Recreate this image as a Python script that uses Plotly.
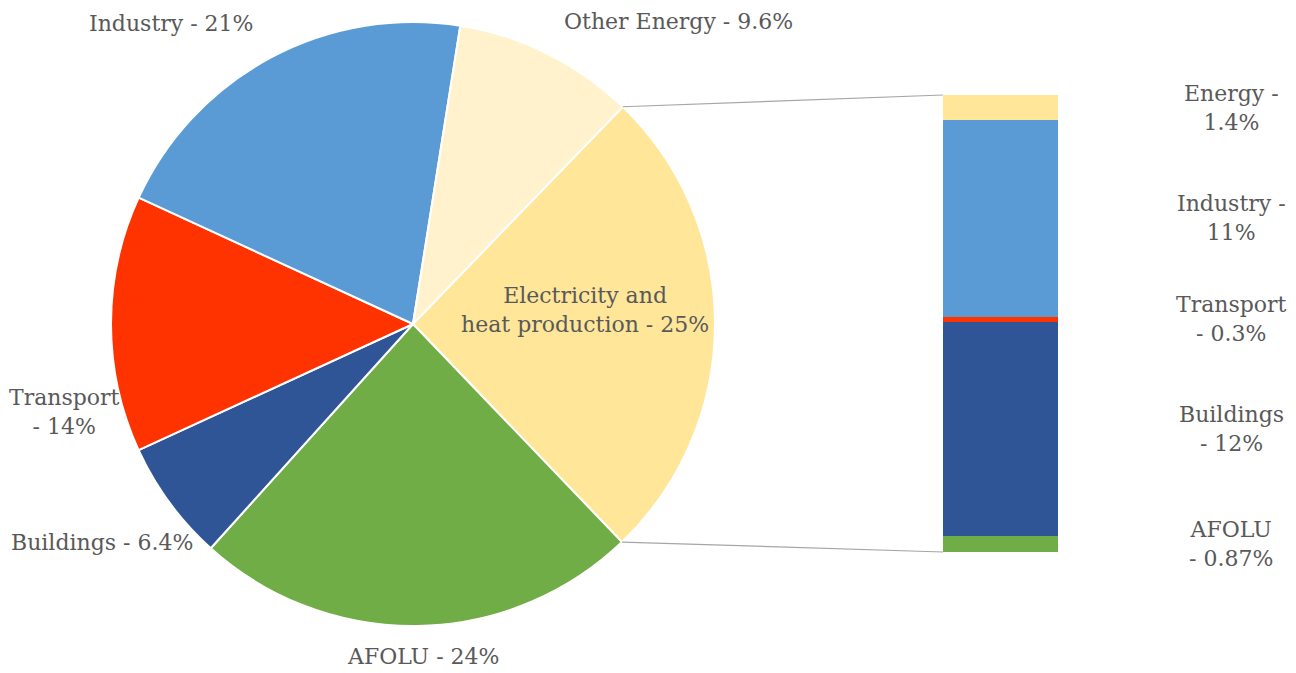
import math
import plotly.graph_objects as go

# ---- data ----
pie_labels = ["Electricity and heat production", "AFOLU", "Buildings", "Transport", "Industry", "Other Energy"]
pie_values = [25.57, 23.8, 6.45, 13.7, 20.6, 9.7]
pie_colors = ["#FFE699", "#70AD47", "#2F5597", "#FF3300", "#5B9BD5", "#FFF2CC"]
pie_text = ["Electricity and<br>heat production - 25%", "AFOLU - 24%", "Buildings - 6.4%",
            "Transport<br>- 14%", "Industry - 21%", "Other Energy - 9.6%"]

bar_labels = ["AFOLU", "Buildings", "Transport", "Industry", "Energy"]
bar_values = [0.87, 12, 0.3, 11, 1.4]
bar_colors = ["#70AD47", "#2F5597", "#FF3300", "#5B9BD5", "#FFE699"]
bar_text = ["AFOLU<br>- 0.87%", "Buildings<br>- 12%", "Transport<br>- 0.3%", "Industry -<br>11%", "Energy -<br>1.4%"]

# ---- layout geometry ----
W, H = 1296, 673
CX, CY, R = 413, 324, 302
ROT = 44
BAR_X0, BAR_X1, BAR_Y0, BAR_Y1 = 943, 1058, 95, 552
FONT = dict(family="DejaVu Serif", size=22, color="#595959")
LINE_COL = "#A6A6A6"

def px(x):
    return x / W

def py(y):
    return 1 - y / H

# label anchor positions (pixels) for pie labels
pie_label_pos = [(585, 310), (423, 656), (102, 542), (64, 412), (171, 24), (678, 22)]
BAR_LABEL_X = 1231

fig = go.Figure()

fig.add_trace(go.Pie(
    labels=pie_labels, values=pie_values, sort=False, direction="clockwise",
    rotation=ROT, marker=dict(colors=pie_colors, line=dict(color="white", width=2)),
    textinfo="none", hoverinfo="label+percent", showlegend=False,
    domain=dict(x=[px(CX - R), px(CX + R)], y=[py(CY + R), py(CY - R)]),
))

for lab, val, col in zip(bar_labels, bar_values, bar_colors):
    fig.add_trace(go.Bar(
        x=[0], y=[val], name=lab, width=1, marker=dict(color=col, line=dict(width=0)),
        xaxis="x2", yaxis="y2", showlegend=False,
    ))

total_bar = sum(bar_values)

# pie labels
for txt, (lx, ly) in zip(pie_text, pie_label_pos):
    fig.add_annotation(x=px(lx), y=py(ly), xref="paper", yref="paper", text=txt,
                       showarrow=False, font=FONT, xanchor="center", yanchor="middle", align="center")

# bar labels
cum = 0
for txt, val in zip(bar_text, bar_values):
    mid = cum + val / 2
    cum += val
    fig.add_annotation(x=px(BAR_LABEL_X), y=mid, xref="paper", yref="y2", text=txt,
                       showarrow=False, font=FONT, xanchor="center", yanchor="middle", align="center")

# connector lines from the first slice edges to the bar corners
tot = sum(pie_values)
a0 = math.radians(ROT)
a1 = math.radians(ROT + 360 * pie_values[0] / tot)
p0 = (CX + R * math.sin(a0), CY - R * math.cos(a0))
p1 = (CX + R * math.sin(a1), CY - R * math.cos(a1))
fig.add_shape(type="line", xref="paper", yref="paper", x0=px(p0[0]), y0=py(p0[1]),
              x1=px(BAR_X0), y1=py(BAR_Y0), line=dict(color=LINE_COL, width=1.2))
fig.add_shape(type="line", xref="paper", yref="paper", x0=px(p1[0]), y0=py(p1[1]),
              x1=px(BAR_X0), y1=py(BAR_Y1), line=dict(color=LINE_COL, width=1.2))

fig.update_layout(
    width=W, height=H, margin=dict(l=0, r=0, t=0, b=0),
    paper_bgcolor="white", plot_bgcolor="white", barmode="stack", bargap=0,
    xaxis2=dict(domain=[px(BAR_X0), px(BAR_X1)], range=[-0.5, 0.5], visible=False, anchor="y2"),
    yaxis2=dict(domain=[py(BAR_Y1), py(BAR_Y0)], range=[0, total_bar], visible=False, anchor="x2"),
)

fig.write_html("out.html")
